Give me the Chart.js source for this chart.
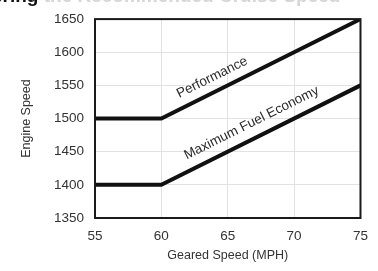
<!DOCTYPE html>
<html>
<head>
<meta charset="utf-8">
<script src="https://cdn.jsdelivr.net/npm/chart.js@4/dist/chart.umd.min.js"></script>
<style>
    html, body { margin: 0; padding: 0; background: #fff; }
    #wrap { width: 378px; height: 271px; }
</style>
</head>
<body>
<div id="wrap"><canvas id="speedChart" width="378" height="271"></canvas></div>
<script>
const gearedSpeed = [55, 60, 75];
const performanceRpm = [1500, 1500, 1650];
const fuelEconomyRpm = [1400, 1400, 1550];
const xTicks = [55, 60, 65, 70, 75];
const yTicks = [1350, 1400, 1450, 1500, 1550, 1600, 1650];

const lineLabels = [
    { text: "Performance", series: 0, atX: 64.3, lift: 14 },
    { text: "Maximum Fuel Economy", series: 1, atX: 67.3, lift: 15 }
];

function toPoints(values) {
    return gearedSpeed.map((x, i) => ({ x: x, y: values[i] }));
}

const frameAndLabels = {
    id: "frameAndLabels",
    afterDraw(chart) {
        const ctx = chart.ctx;
        const area = chart.chartArea;
        const xs = chart.scales.x;
        const ys = chart.scales.y;

        ctx.save();
        ctx.strokeStyle = "#1a1a1a";
        ctx.lineWidth = 2;
        ctx.strokeRect(area.left, area.top, area.right - area.left, area.bottom - area.top);

        // title cut off by the top edge of the scan
        ctx.font = "bold 19px 'Liberation Sans', Arial, sans-serif";
        ctx.textBaseline = "alphabetic";
        ctx.textAlign = "left";
        ctx.fillStyle = "#111";
        ctx.fillText("ering", -8, 2);
        const w = ctx.measureText("ering ").width;
        ctx.fillStyle = "#d6d6d6";
        ctx.fillText("the Recommended Cruise Speed", -8 + w, 2);

        lineLabels.forEach(lbl => {
            const data = chart.data.datasets[lbl.series].data;
            const a = data[1], b = data[2];
            const px1 = xs.getPixelForValue(a.x), py1 = ys.getPixelForValue(a.y);
            const px2 = xs.getPixelForValue(b.x), py2 = ys.getPixelForValue(b.y);
            const angle = Math.atan2(py2 - py1, px2 - px1);
            const yVal = a.y + (b.y - a.y) * (lbl.atX - a.x) / (b.x - a.x);
            const cx = xs.getPixelForValue(lbl.atX);
            const cy = ys.getPixelForValue(yVal);

            ctx.save();
            ctx.translate(cx, cy);
            ctx.rotate(angle);
            ctx.fillStyle = "#2a2a2a";
            ctx.font = "13.5px 'Liberation Sans', Arial, sans-serif";
            ctx.textAlign = "center";
            ctx.textBaseline = "middle";
            ctx.fillText(lbl.text, 0, -lbl.lift);
            ctx.restore();
        });
        ctx.restore();
    }
};

new Chart(document.getElementById("speedChart"), {
    type: "line",
    data: {
        datasets: [
            {
                label: "Performance",
                data: toPoints(performanceRpm),
                borderColor: "#111",
                borderWidth: 4,
                pointRadius: 0,
                tension: 0
            },
            {
                label: "Maximum Fuel Economy",
                data: toPoints(fuelEconomyRpm),
                borderColor: "#111",
                borderWidth: 4,
                pointRadius: 0,
                tension: 0
            }
        ]
    },
    options: {
        responsive: false,
        animation: false,
        layout: { padding: { left: 0, right: 16, top: 18, bottom: 0 } },
        plugins: {
            legend: { display: false },
            tooltip: { enabled: false }
        },
        scales: {
            x: {
                type: "linear",
                min: 55,
                max: 75,
                afterBuildTicks: axis => { axis.ticks = xTicks.map(v => ({ value: v })); },
                afterFit: axis => { axis.height = 53; },
                grid: { color: "#e2e2e2", lineWidth: 1, drawTicks: false },
                border: { display: false },
                ticks: {
                    color: "#333",
                    padding: 10,
                    font: { family: "'Liberation Sans', Arial, sans-serif", size: 13.5 }
                },
                title: {
                    display: true,
                    text: "Geared Speed (MPH)",
                    color: "#333",
                    padding: { top: 0, bottom: 8 },
                    font: { family: "'Liberation Sans', Arial, sans-serif", size: 12.5 }
                }
            },
            y: {
                min: 1350,
                max: 1650,
                afterBuildTicks: axis => { axis.ticks = yTicks.map(v => ({ value: v })); },
                afterFit: axis => { axis.width = 95; },
                grid: { color: "#e2e2e2", lineWidth: 1, drawTicks: false },
                border: { display: false },
                ticks: {
                    color: "#333",
                    padding: 11,
                    callback: v => String(v),
                    font: { family: "'Liberation Sans', Arial, sans-serif", size: 13.5 }
                },
                title: {
                    display: true,
                    text: "Engine Speed",
                    color: "#333",
                    padding: { top: 19, bottom: 0 },
                    font: { family: "'Liberation Sans', Arial, sans-serif", size: 12.5 }
                }
            }
        }
    },
    plugins: [frameAndLabels]
});
</script>
</body>
</html>
